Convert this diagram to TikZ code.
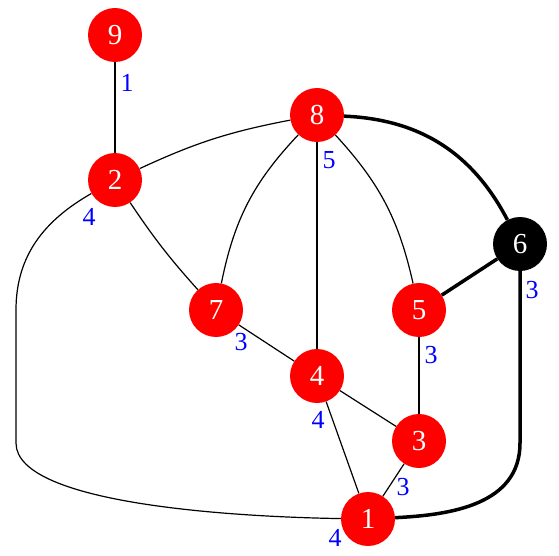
\documentclass[tikz,border=0pt]{standalone}
\usepackage{fontspec}
\setmainfont{Liberation Serif}
\usetikzlibrary{backgrounds}
\begin{document}
\begin{tikzpicture}[x=1pt,y=-1pt,
  vert/.style={circle,fill=red,text=white,minimum size=54pt,inner sep=0pt,font=\fontsize{29}{31}\selectfont},
  blackvert/.style={vert,fill=black},
  wlab/.style={text=blue,inner sep=0pt,font=\fontsize{26}{28}\selectfont},
  edge/.style={line width=1.2pt,black},
  heavy/.style={line width=3.5pt,black}]
\useasboundingbox (0,0) rectangle (559,556);
\node[vert] (n9) at (115,35) {9};
\node[vert] (n2) at (115,180) {2};
\node[vert] (n8) at (317,115) {8};
\node[blackvert] (n6) at (520,244) {6};
\node[vert] (n7) at (216,310) {7};
\node[vert] (n5) at (419,310) {5};
\node[vert] (n4) at (317,376) {4};
\node[vert] (n3) at (419,441) {3};
\node[vert] (n1) at (368,519) {1};
\coordinate (c2a) at (16,310);
\coordinate (c2b) at (16,443);
\coordinate (c6a) at (520,443);
\begin{scope}[on background layer]
\draw[edge] (n9) -- (n2);
\draw[edge] (n2) to[bend left=7] (n8);
\draw[edge] (n2) to[bend right=4] (n7);
\draw[edge] (n8) to[bend right=16] (n7);
\draw[edge] (n8) -- (n4);
\draw[edge] (n8) to[bend left=15] (n5);
\draw[edge] (n7) -- (n4);
\draw[edge] (n4) -- (n3);
\draw[edge] (n4) -- (n1);
\draw[edge] (n5) -- (n3);
\draw[edge] (n3) -- (n1);
\draw[edge] (n2) .. controls (45,220) and (16,255) .. (c2a) -- (c2b) .. controls (16,505) and (240,517) .. (n1);
\draw[heavy] (n8) to[bend left=30] (n6);
\draw[heavy] (n6) -- (n5);
\draw[heavy] (n6) -- (c6a) .. controls (520,505) and (450,515) .. (n1);
\end{scope}
\node[wlab] (l9) at (127,83) {1};
\node[wlab] (l2) at (89,217) {4};
\node[wlab] (l8) at (329,160) {5};
\node[wlab] (l7) at (241,342) {3};
\node[wlab] (l6) at (532,290) {3};
\node[wlab] (l5) at (431,355) {3};
\node[wlab] (l4) at (318,420) {4};
\node[wlab] (l3) at (403,487) {3};
\node[wlab] (l1) at (335,538) {4};
\end{tikzpicture}
\end{document}
